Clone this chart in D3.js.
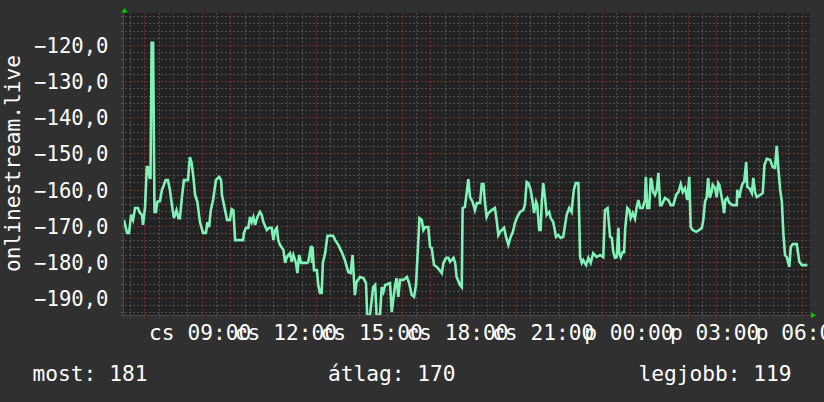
<!DOCTYPE html>
<html><head><meta charset="utf-8">
<script src="https://cdn.jsdelivr.net/npm/d3@7"></script>
<style>html,body{margin:0;padding:0;background:#303030;}svg{display:block}</style>
</head><body><svg id="c" width="824" height="402"></svg>
<script>
// hours since Thursday 00:00
const hours = [6.28,6.39,6.46,6.53,6.60,6.67,6.77,6.84,6.91,6.95,7.02,7.08,7.12,7.18,7.21,7.25,7.30,7.35,7.40,7.45,
7.54,7.61,7.68,7.74,7.82,7.89,7.96,8.03,8.12,8.19,8.24,8.31,8.38,8.52,8.59,8.65,8.71,8.77,8.85,8.94,
9.05,9.15,9.20,9.26,9.32,9.40,9.50,9.61,9.68,9.71,9.82,9.89,9.99,10.05,10.11,10.17,10.45,10.48,10.55,10.63,
10.69,10.75,10.81,10.87,10.95,11.04,11.10,11.16,11.28,11.36,11.45,11.51,11.57,11.63,11.68,11.74,11.86,11.92,11.98,12.09,
12.15,12.21,12.30,12.35,12.41,12.48,12.69,12.73,12.82,12.85,12.86,12.88,12.93,13.03,13.08,13.14,13.20,13.24,13.32,13.40,
13.60,13.67,13.78,13.90,14.01,14.13,14.21,14.28,14.36,14.42,14.54,14.66,14.75,14.79,14.89,15.00,15.07,15.12,15.24,15.30,
15.36,15.42,15.59,15.65,15.71,15.77,15.82,15.88,15.94,16.06,16.18,16.26,16.35,16.43,16.50,16.55,16.62,16.70,16.76,16.82,
16.93,16.99,17.05,17.13,17.23,17.32,17.40,17.46,17.55,17.63,17.69,17.81,17.87,17.92,18.04,18.10,18.13,18.21,18.27,18.33,
18.39,18.48,18.56,18.63,18.74,18.80,18.86,18.91,18.97,19.03,19.15,19.26,19.32,19.38,19.44,19.58,19.65,19.73,19.81,19.88,
19.96,20.04,20.14,20.25,20.31,20.37,20.43,20.51,20.58,20.63,20.70,20.74,20.81,20.86,20.90,20.95,21.01,21.07,21.16,21.21,
21.30,21.40,21.48,21.56,21.65,21.77,21.86,21.94,22.02,22.09,22.18,22.24,22.30,22.35,22.45,22.53,22.61,22.70,22.82,22.94,
23.05,23.11,23.20,23.29,23.35,23.40,23.46,23.52,23.58,23.61,23.66,23.73,23.78,23.82,23.89,23.96,24.01,24.08,24.16,24.22,
24.28,24.34,24.43,24.51,24.54,24.59,24.66,24.71,24.74,24.80,24.86,24.92,24.98,25.04,25.09,25.21,25.33,25.41,25.50,25.60,
25.68,25.76,25.83,25.91,25.99,26.06,26.11,26.18,26.30,26.41,26.50,26.55,26.61,26.67,26.72,26.78,26.84,26.88,26.96,27.02,
27.07,27.11,27.16,27.23,27.28,27.32,27.39,27.46,27.58,27.72,27.74,27.81,27.86,27.93,27.98,28.05,28.09,28.16,28.25,28.30,
28.36,28.42,28.54,28.63,28.69,28.77,28.89,28.98,29.06,29.12,29.18,29.24,29.30,29.35,29.41,29.47,29.56,29.61,29.68,29.82,
29.91,30.00,30.08,30.19];
const values = [-168.4,-172.0,-172.0,-167.0,-168.4,-165.1,-165.1,-166.5,-167.0,-169.8,-164.8,-153.8,-153.8,-156.8,-156.8,-119.4,-119.4,-166.2,-166.2,-163.4,
-163.2,-160.1,-158.7,-157.4,-157.4,-160.1,-164.3,-167.9,-165.7,-167.9,-167.9,-162.1,-157.4,-157.4,-151.0,-152.7,-156.5,-161.5,-163.4,-169.0,
-172.0,-172.0,-169.0,-170.4,-165.7,-162.9,-157.4,-156.5,-157.4,-161.5,-165.7,-168.4,-168.4,-165.4,-165.7,-174.0,-174.0,-172.0,-170.6,-170.6,
-167.6,-169.0,-167.6,-169.8,-167.6,-166.2,-167.0,-169.0,-171.2,-170.6,-170.6,-174.0,-171.2,-170.6,-174.0,-175.3,-176.7,-180.3,-178.7,-177.6,
-180.0,-178.1,-180.3,-183.1,-178.1,-180.3,-180.3,-180.0,-175.9,-175.9,-180.3,-175.9,-182.3,-182.3,-186.4,-188.6,-188.6,-180.3,-177.6,-172.8,
-172.8,-174.0,-175.3,-177.3,-179.5,-182.8,-183.1,-178.1,-189.2,-185.6,-184.2,-184.5,-185.9,-194.7,-194.7,-187.0,-186.4,-194.7,-194.7,-187.0,
-188.3,-186.4,-185.9,-193.9,-190.0,-186.4,-184.5,-189.7,-185.0,-185.0,-184.2,-185.9,-189.2,-189.7,-186.4,-178.7,-167.9,-168.4,-171.2,-170.4,
-170.4,-175.9,-176.2,-180.9,-181.4,-182.3,-183.1,-180.3,-178.9,-178.9,-180.0,-178.9,-180.3,-184.2,-186.4,-187.0,-165.1,-164.8,-161.0,-157.1,
-162.1,-163.4,-165.7,-163.7,-163.7,-158.5,-158.5,-163.4,-167.6,-166.5,-165.7,-165.1,-168.4,-172.6,-171.7,-170.6,-173.1,-175.3,-173.1,-172.0,
-169.3,-167.6,-166.2,-165.7,-164.3,-157.9,-158.2,-160.1,-163.4,-166.5,-163.4,-164.3,-171.2,-171.2,-163.4,-158.2,-162.1,-167.0,-166.2,-167.9,
-169.0,-173.1,-172.6,-173.4,-173.1,-167.0,-165.1,-166.2,-160.1,-158.2,-158.2,-178.7,-180.3,-179.5,-180.9,-178.9,-180.3,-177.6,-178.7,-178.1,
-178.7,-165.7,-165.1,-173.1,-173.4,-177.3,-178.9,-178.7,-170.6,-177.6,-178.7,-177.3,-177.3,-170.6,-165.1,-165.7,-167.9,-166.5,-168.1,-164.8,
-162.9,-165.1,-165.1,-162.9,-156.5,-165.1,-165.1,-156.8,-157.4,-160.7,-161.5,-160.1,-155.4,-164.3,-164.3,-162.3,-162.9,-164.3,-164.3,-161.5,
-160.7,-158.5,-160.7,-159.6,-162.9,-156.5,-170.4,-171.2,-171.7,-171.2,-170.6,-168.4,-163.4,-162.1,-156.8,-162.3,-160.7,-158.7,-159.6,-162.1,
-158.2,-158.7,-160.7,-163.7,-166.5,-162.9,-162.3,-163.7,-164.3,-164.3,-160.1,-162.3,-160.1,-158.2,-157.9,-152.4,-159.3,-159.6,-161.0,-156.8,
-160.7,-162.1,-161.5,-161.0,-153.2,-151.5,-151.8,-153.8,-154.0,-147.9,-154.6,-160.1,-163.4,-172.0,-178.1,-178.7,-181.4,-175.9,-175.1,-175.1,
-180.0,-180.9,-180.9,-180.9];
const yTicks = [-120,-130,-140,-150,-160,-170,-180,-190];
const xTickHours = [9,12,15,18,21,24,27,30];
const xTickLabels = ["cs 09:00","cs 12:00","cs 15:00","cs 18:00","cs 21:00","p 00:00","p 03:00","p 06:00"];
const legendLabels = ["most:","átlag:","legjobb:"];
const legendValues = [181,170,119];
const yTitle = "onlinestream.live";

const FONT = "'DejaVu Sans Mono', monospace";
const base = new Date(2024,0,4,0,0,0);
const toDate = h => new Date(base.getTime() + h*3600e3);
const L=124, R=810, T=13, B=315;
const x = d3.scaleTime().domain([toDate(6.2833), toDate(30.2833)]).range([L,R]);
const y = d3.scaleLinear().domain([-194.71,-111.15]).range([B,T]);
const svg = d3.select("#c");
svg.append("rect").attr("width",824).attr("height",402).attr("fill","#303030");
svg.append("rect").attr("x",L).attr("y",T).attr("width",R-L).attr("height",B-T).attr("fill","#222222");

const g = svg.append("g").attr("shape-rendering","crispEdges");
const minorCol="rgba(125,125,125,0.5)", majorCol="rgba(170,60,60,0.6)";
const hMinor = d3.range(-194,-111,2).filter(v=>v%10!==0);
g.selectAll(".hm").data(hMinor).join("line").attr("x1",L-3).attr("x2",R)
 .attr("y1",d=>Math.round(y(d))+0.5).attr("y2",d=>Math.round(y(d))+0.5)
 .attr("stroke",minorCol).attr("stroke-dasharray","2,2");
const d0=x.domain()[0], d1=x.domain()[1];
const vMinor = d3.timeMinute.every(30).range(d0,d1).filter(d=>d.getMinutes()!==0);
g.selectAll(".vm").data(vMinor).join("line").attr("y1",T).attr("y2",B+3)
 .attr("x1",d=>Math.round(x(d))+0.5).attr("x2",d=>Math.round(x(d))+0.5)
 .attr("stroke",minorCol).attr("stroke-dasharray","2,2");
g.selectAll(".hM").data(yTicks).join("line").attr("x1",L-3).attr("x2",R)
 .attr("y1",d=>Math.round(y(d))+0.5).attr("y2",d=>Math.round(y(d))+0.5)
 .attr("stroke",majorCol).attr("stroke-dasharray","2,2");
const vMajor = d3.timeHour.every(1).range(d0,d1);
g.selectAll(".vM").data(vMajor).join("line").attr("y1",T).attr("y2",B+3)
 .attr("x1",d=>Math.round(x(d))+0.5).attr("x2",d=>Math.round(x(d))+0.5)
 .attr("stroke",majorCol).attr("stroke-dasharray","2,2");

svg.append("clipPath").attr("id","clip").append("rect").attr("x",L).attr("y",T).attr("width",R-L).attr("height",B-T);
const pts = hours.map((h,i)=>({t:toDate(h),v:values[i]}));
svg.append("path").datum(pts).attr("clip-path","url(#clip)")
 .attr("d",d3.line().x(d=>x(d.t)).y(d=>y(d.v)))
 .attr("fill","none").attr("stroke","#80f2b8").attr("stroke-width",2.6).attr("stroke-linejoin","miter");

g.append("line").attr("x1",L-0.5).attr("x2",L-0.5).attr("y1",T-2).attr("y2",B+3).attr("stroke","#4a4a4a");
g.append("line").attr("x1",L-3).attr("x2",R+2).attr("y1",B+0.5).attr("y2",B+0.5).attr("stroke","#4a4a4a");
svg.append("path").attr("d",`M${L-2.5},${T-0.5} L${L+0.5},${T-5} L${L+3.5},${T-0.5} Z`).attr("fill","#00cc00");
svg.append("path").attr("d",`M${R+1},${B-2.7} L${R+6},${B+0.3} L${R+1},${B+3.3} Z`).attr("fill","#00cc00");

svg.selectAll(".yl").data(yTicks).join("text").attr("x",108.5).attr("y",d=>y(d)+8)
 .attr("text-anchor","end").attr("fill","#ffffff").attr("font-family",FONT).attr("font-size","20.6px")
 .text(d=>d3.format(".1f")(d).replace(".",","));
svg.selectAll(".xl").data(xTickHours).join("text").attr("x",d=>x(toDate(d))-1.5).attr("y",339.5)
 .attr("text-anchor","middle").attr("fill","#ffffff").attr("font-family",FONT).attr("font-size","21.2px")
 .text((d,i)=>xTickLabels[i]);
svg.append("text").attr("transform","translate(20,163.5) rotate(-90)").attr("text-anchor","middle")
 .attr("fill","#ffffff").attr("font-family",FONT).attr("font-size","21.2px").text(yTitle);
const legX=[32.6,328,638.5];
svg.selectAll(".lg").data(legendLabels).join("text").attr("x",(d,i)=>legX[i]).attr("y",381)
 .attr("fill","#ffffff").attr("font-family",FONT).attr("font-size","21.2px")
 .text((d,i)=>d+" "+legendValues[i]);
</script></body></html>
